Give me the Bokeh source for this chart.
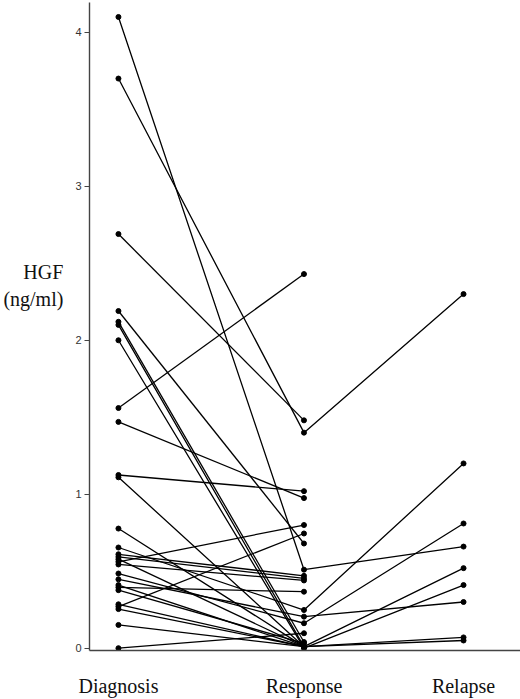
from bokeh.plotting import figure
from bokeh.models import ColumnDataSource, FixedTicker
from bokeh.embed import file_html
from bokeh.resources import INLINE

categories = ["Diagnosis", "Response", "Relapse"]

# HGF (ng/ml) per patient
diagnosis = [4.10, 3.70, 2.69, 2.19, 2.12, 2.10, 2.00, 1.56, 1.47, 1.125, 1.11,
             0.777, 0.654, 0.61, 0.593, 0.578, 0.561, 0.544, 0.485, 0.447, 0.41,
             0.395, 0.377, 0.285, 0.27, 0.254, 0.151, 0.0]
response = [0.51, 1.40, 1.48, 0.68, 0.04, 0.01, 0.00, 2.43, 0.975, 1.02, 0.01,
            0.01, 0.248, 0.47, 0.453, 0.01, 0.80, 0.44, 0.162, 0.205, 0.01,
            0.367, 0.032, 0.01, 0.745, 0.01, 0.01, 0.097]
relapse = [0.66, 2.30, None, None, None, 0.52, 0.41, None, None, None, 0.07,
           0.05, 1.20, None, None, None, None, None, 0.81, 0.30, None,
           None, None, None, None, None, None, None]

y_ticks = [0, 1, 2, 3, 4]

# horizontal placement of the three stages (layout)
cat_pos = [0.0, 1.0, 1.86]

xs, ys, px, py = [], [], [], []
for d, r, l in zip(diagnosis, response, relapse):
    vals = [d, r] + ([l] if l is not None else [])
    xx = cat_pos[:len(vals)]
    xs.append(xx)
    ys.append(vals)
    px += xx
    py += vals

lines = ColumnDataSource(dict(xs=xs, ys=ys))
pts = ColumnDataSource(dict(x=px, y=py))

p = figure(width=520, height=699, x_range=(-0.156, 2.167), y_range=(-0.015, 4.194),
           output_backend="svg", toolbar_location=None,
           min_border_left=88, min_border_right=0, min_border_top=2, min_border_bottom=47)

p.multi_line(xs="xs", ys="ys", source=lines, line_color="black", line_width=1.3)
p.scatter(x="x", y="y", source=pts, size=5, color="black")

p.grid.visible = False
p.outline_line_color = None
p.background_fill_color = "white"
p.border_fill_color = "white"

# y axis
ya = p.yaxis[0]
ya.ticker = FixedTicker(ticks=y_ticks)
ya.axis_line_color = "#444444"
ya.axis_line_width = 1.4
ya.major_tick_line_color = "#444444"
ya.major_tick_out = 5
ya.major_tick_in = 0
ya.minor_tick_line_color = None
ya.major_label_text_font = "Liberation Sans"
ya.major_label_text_font_size = "11px"
ya.major_label_text_color = "#333333"
ya.major_label_standoff = 3
ya.axis_label = "HGF\n(ng/ml)\n\n\n"
ya.axis_label_orientation = "horizontal"
ya.axis_label_text_font = "Liberation Serif"
ya.axis_label_text_font_size = "20px"
ya.axis_label_text_font_style = "normal"
ya.axis_label_text_color = "#111111"
ya.axis_label_text_line_height = 1.25
ya.axis_label_standoff = 9

# x axis with stage names
xa = p.xaxis[0]
xa.ticker = FixedTicker(ticks=cat_pos)
xa.major_label_overrides = {cat_pos[i]: categories[i] for i in range(len(categories))}
xa.axis_line_color = "#444444"
xa.axis_line_width = 1.4
xa.major_tick_line_color = None
xa.minor_tick_line_color = None
xa.major_tick_out = 0
xa.major_tick_in = 0
xa.major_label_text_font = "Liberation Serif"
xa.major_label_text_font_size = "20px"
xa.major_label_text_color = "#111111"
xa.major_label_standoff = 24

open("out.html", "w").write(file_html(p, INLINE))
